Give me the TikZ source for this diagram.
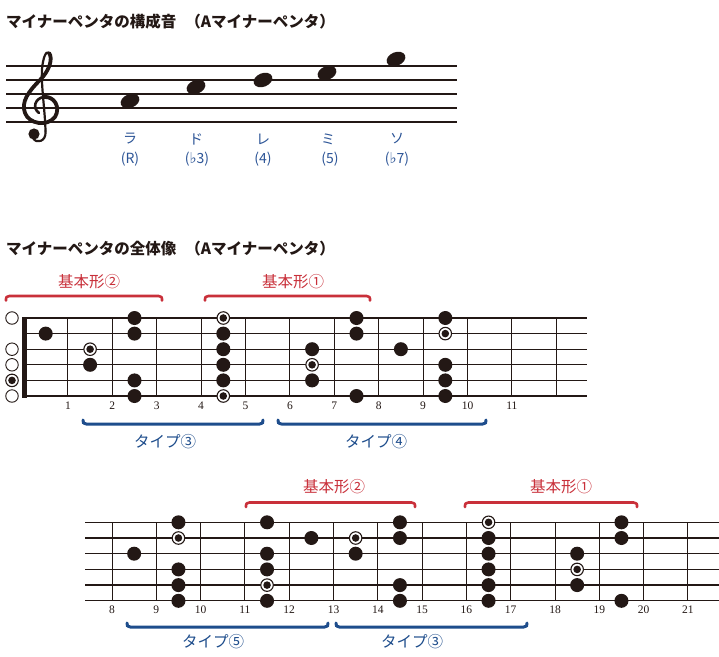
\documentclass[tikz,border=0pt]{standalone}
\usepackage{fontspec}
\setmainfont{Liberation Serif}
\newfontfamily\jp{Noto Sans CJK JP}
\newfontfamily\djv{DejaVu Sans}
\usetikzlibrary{shapes.geometric}
\definecolor{ink}{HTML}{231815}
\definecolor{kred}{HTML}{C9303A}
\definecolor{kblue}{HTML}{1E4D8C}
\definecolor{lblue}{HTML}{2D5597}
\newcommand\flt{{\djv\fontsize{15}{15}\selectfont ♭}}
\tikzset{
  title/.style={anchor=west, inner sep=0, font=\jp\bfseries\fontsize{15.5}{16}\selectfont, text=ink},
  brlabel/.style={inner sep=0, font=\jp\fontsize{15.5}{16}\selectfont},
  stlabel/.style={inner sep=0, text=lblue, font=\jp\fontsize{14}{14}\selectfont},
  fretnum/.style={inner sep=0, text=ink, font=\fontsize{11.5}{12}\selectfont},
  notehead/.style={ellipse, fill=ink, minimum width=19.5, minimum height=13.5, inner sep=0},
  dot/.style={circle, fill=ink, minimum size=14, inner sep=0},
  root/.style={circle, draw=ink, line width=1.1, fill=white, minimum size=12.5, inner sep=0,
    path picture={\fill[ink] (path picture bounding box.center) circle (3.8pt);}},
  open/.style={circle, draw=ink, line width=0.9, fill=white, minimum size=12.5, inner sep=0},
  redbr/.style={draw=kred, line width=2.6, line cap=round},
  bluebr/.style={draw=kblue, line width=3, line cap=round},
  strline/.style={draw=ink, line width=1.3},
  fretline/.style={draw=ink, line width=0.9},
}
\newcommand\bkdown[3]{\draw[redbr] (#1,#3+4.5) .. controls (#1,#3+1) .. (#1+3.5,#3) -- (#2-3.5,#3) .. controls (#2,#3+1) .. (#2,#3+4.5);}
\newcommand\bkup[3]{\draw[bluebr] (#1,#3-4) .. controls (#1,#3-1) .. (#1+3.5,#3) -- (#2-3.5,#3) .. controls (#2,#3-1) .. (#2,#3-4);}
\begin{document}
\begin{tikzpicture}[x=1pt,y=-1pt]
\useasboundingbox[fill=white] (0,0) rectangle (719,656);

% ---------- titles
\node[title] (t1) at (6,22) {マイナーペンタの構成音\hspace{9pt}（Aマイナーペンタ）};
\node[title] (t2) at (6,249) {マイナーペンタの全体像\hspace{9pt}（Aマイナーペンタ）};

% ---------- staff
\foreach \i in {0,...,4} \draw[ink, line width=1.4] (6,66+14*\i) -- (457,66+14*\i);
% treble clef
\begin{scope}[ink, line cap=round, line join=round]
\draw[line width=2.2] (45.5,131) .. controls (45,110) and (41,86) .. (42,69)
  .. controls (43,58) and (46,50) .. (49,53);
\draw[line width=3.8] (49,53) .. controls (53,58) and (50,70) .. (40,80)
  .. controls (28,92) and (21,102) .. (25,113)
  .. controls (29,124) and (47,127) .. (55,117)
  .. controls (61,107) and (54,96) .. (44,97);
\draw[line width=2.6] (44,97) .. controls (35,98) and (32,108) .. (39,113);
\draw[line width=2.2] (45.5,131) .. controls (46.5,142) and (36,144) .. (33,138);
\fill (34,134) circle (5.6);
\end{scope}
% notes
\node[notehead, rotate=22] (nA) at (130,101) {};
\node[notehead, rotate=22] (nC) at (196,87) {};
\node[notehead, rotate=22] (nD) at (263,80) {};
\node[notehead, rotate=22] (nE) at (327,73) {};
\node[notehead, rotate=22] (nG) at (396,59) {};
% note labels
\node[stlabel] (la1) at (130,139) {ラ};
\node[stlabel] (la2) at (130,159) {(R)};
\node[stlabel] (ld1) at (196,139) {ド};
\node[stlabel] (ld2) at (197,159) {(\flt3)};
\node[stlabel] (lr1) at (263,139) {レ};
\node[stlabel] (lr2) at (263,159) {(4)};
\node[stlabel] (lm1) at (328,139) {ミ};
\node[stlabel] (lm2) at (330,159) {(5)};
\node[stlabel] (ls1) at (397,139) {ソ};
\node[stlabel] (ls2) at (397,159) {(\flt7)};

% ---------- fretboard 1
\foreach \s in {1,...,6} \draw[strline] (24,{318+15.6*(\s-1)}) -- (587,{318+15.6*(\s-1)});
\foreach \n in {1,...,12} \draw[fretline] ({23.5+44.4*\n},318) -- ({23.5+44.4*\n},396);
\fill[ink] (22,316.5) rectangle (26.5,397.5);
\foreach \n in {1,...,11} \node[fretnum] (fa\n) at ({23.5+44.4*\n},406) {\n};
% open strings
\foreach \s in {1,3,4,6} \node[open] (oa\s) at (12,{318+15.6*(\s-1)}) {};
\node[root] (oa5) at (12,{318+15.6*4}) {};
% dots: fret/string
\foreach \f/\s in {1/2, 2/4, 3/1, 3/2, 3/5, 3/6, 5/2, 5/3, 5/4, 5/5, 7/3, 7/5, 8/1, 8/2, 8/6, 9/3, 10/1, 10/4, 10/5, 10/6}
  \node[dot] (a-\f-\s) at ({23.5+44.4*(\f-0.5)},{318+15.6*(\s-1)}) {};
\foreach \f/\s in {2/3, 5/1, 5/6, 7/4, 10/2}
  \node[root] (a-\f-\s) at ({23.5+44.4*(\f-0.5)},{318+15.6*(\s-1)}) {};
% brackets
\bkdown{6}{162}{296}
\bkdown{205}{370}{296}
\node[brlabel, text=kred] (ba1) at (89,282) {基本形②};
\node[brlabel, text=kred] (ba2) at (293,282) {基本形①};
\bkup{83}{263}{424}
\bkup{278}{486}{424}
\node[brlabel, text=kblue] (ba3) at (165,442) {タイプ③};
\node[brlabel, text=kblue] (ba4) at (376,442) {タイプ④};

% ---------- fretboard 2
\foreach \s in {1,...,6} \draw[strline] (85,{522.3+15.7*(\s-1)}) -- (719,{522.3+15.7*(\s-1)});
\foreach \n in {8,...,21} \draw[fretline] ({112+44.3*(\n-8)},522.3) -- ({112+44.3*(\n-8)},600.8);
\foreach \n in {8,...,21} \node[fretnum] (fb\n) at ({112+44.3*(\n-8)},610) {\n};
\foreach \f/\s in {9/3, 10/1, 10/4, 10/5, 10/6, 12/1, 12/3, 12/4, 12/6, 13/2, 14/3, 15/1, 15/2, 15/5, 15/6, 17/2, 17/3, 17/4, 17/5, 17/6, 19/3, 19/5, 20/1, 20/2, 20/6}
  \node[dot] (b-\f-\s) at ({112+44.3*(\f-8.5)},{522.3+15.7*(\s-1)}) {};
\foreach \f/\s in {10/2, 12/5, 14/2, 17/1, 19/4}
  \node[root] (b-\f-\s) at ({112+44.3*(\f-8.5)},{522.3+15.7*(\s-1)}) {};
% brackets
\bkdown{246}{415}{502.5}
\bkdown{465}{637}{502.5}
\node[brlabel, text=kred] (bb1) at (334,487) {基本形②};
\node[brlabel, text=kred] (bb2) at (561,487) {基本形①};
\bkup{127}{328}{627}
\bkup{336}{527}{627}
\node[brlabel, text=kblue] (bb3) at (213,642) {タイプ⑤};
\node[brlabel, text=kblue] (bb4) at (412,642) {タイプ③};
\end{tikzpicture}
\end{document}
